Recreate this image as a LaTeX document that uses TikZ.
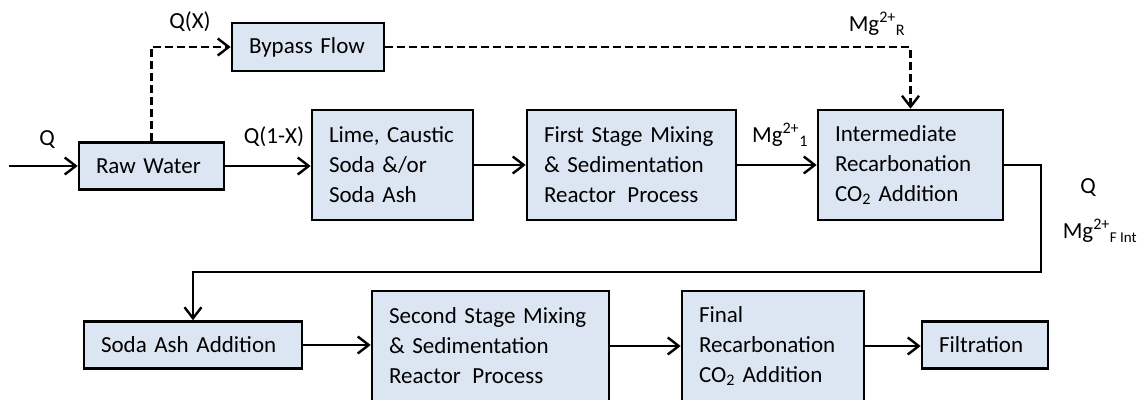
\documentclass[tikz,border=0pt]{standalone}
\usepackage{fontspec}
\setmainfont{Carlito}
\usetikzlibrary{arrows.meta}
\definecolor{boxfill}{HTML}{DCE6F2}
\tikzset{
  proc/.style={draw=black, line width=2.6pt, fill=boxfill, inner xsep=17pt, inner ysep=0pt,
     align=left, font=\fontsize{23}{30}\selectfont, anchor=center},
  lbl/.style={font=\fontsize{23}{30}\selectfont, inner sep=0pt},
  arr/.style={line width=2.4pt, -{Straight Barb[length=11pt,width=17pt,line width=2.4pt]}},
  dsh/.style={dash pattern=on 8pt off 4pt}
}
\begin{document}
\begin{tikzpicture}[x=1pt,y=-1pt]
\path[use as bounding box, clip] (0,0) rectangle (1148,399);
\fill[white] (0,0) rectangle (1148,399);
% boxes
\node[proc, minimum width=145pt, minimum height=47pt, text width=111pt] (raw) at (151.5,166) {Raw Water};
\node[proc, minimum width=152pt, minimum height=48pt, text width=118pt] (bypass) at (308,47) {Bypass Flow};
\node[proc, minimum width=161pt, minimum height=110pt, text width=127pt] (lime) at (392.5,165) {Lime, Caustic\\Soda \&/or\\Soda Ash};
\node[proc, minimum width=209pt, minimum height=110pt, text width=175pt] (first) at (631.5,165) {First Stage Mixing\\\& Sedimentation\\Reactor\, Process};
\node[proc, minimum width=185pt, minimum height=110pt, text width=151pt] (inter) at (910.5,165) {Intermediate\\Recarbonation\\CO\textsubscript{2} Addition};
\node[proc, minimum width=218pt, minimum height=47pt, text width=184pt] (soda) at (193,345) {Soda Ash Addition};
\node[proc, minimum width=237pt, minimum height=110pt, text width=203pt] (second) at (490.5,346) {Second Stage Mixing\\\& Sedimentation\\Reactor\, Process};
\node[proc, minimum width=182pt, minimum height=110pt, text width=148pt] (final) at (773,346) {Final\\Recarbonation\\CO\textsubscript{2} Addition};
\node[proc, minimum width=126pt, minimum height=47pt, text width=92pt] (filt) at (985,345) {Filtration};
% labels
\node[lbl] (lq) at (47,140) {Q};
\node[lbl] (lqx) at (190,22) {Q(X)};
\node[lbl] (lq1x) at (274,137) {Q(1-X)};
\node[lbl] (lmg1) at (780,135) {Mg\textsuperscript{2+}\textsubscript{1}};
\node[lbl] (lmgr) at (877,24) {Mg\textsuperscript{2+}\textsubscript{R}};
\node[lbl] (lq2) at (1088,188) {Q};
\node[lbl] (lmgf) at (1100,231) {Mg\textsuperscript{2+}\textsubscript{\fontsize{15}{15}\selectfont F Int}};
% connectors
\coordinate (start) at (9,166);
\coordinate (turn1) at (1041,165);
\coordinate (turn2) at (1041,272);
\draw[arr] (start) -- (raw.west);
\draw[arr, dsh] (raw.north) |- (bypass.west);
\draw[arr, dsh] (bypass.east) -| (inter.north);
\draw[arr] (raw.east) -- (raw.east -| lime.west);
\draw[arr] (lime.east) -- (first.west);
\draw[arr] (first.east) -- (inter.west);
\draw[arr] (inter.east) -- (turn1) -- (turn2) -| (soda.north);
\draw[arr] (soda.east) -- (soda.east -| second.west);
\draw[arr] (second.east) -- (final.west);
\draw[arr] (final.east) -- (final.east -| filt.west);
\end{tikzpicture}
\end{document}
